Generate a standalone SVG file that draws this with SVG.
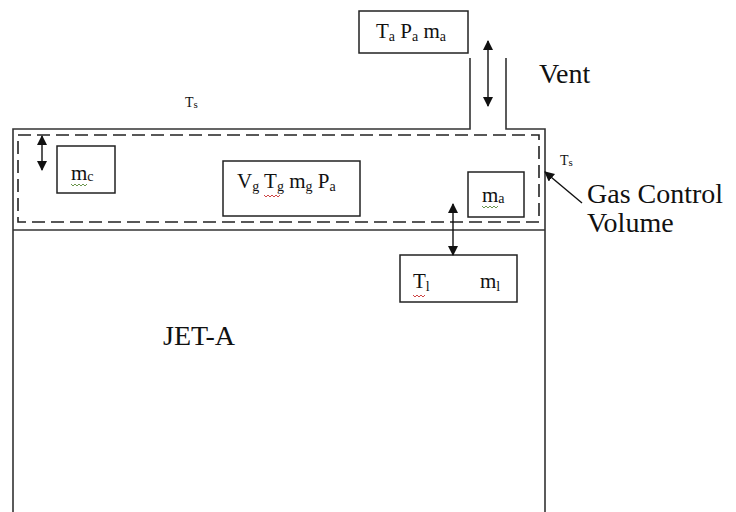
<svg xmlns="http://www.w3.org/2000/svg" width="736" height="512" viewBox="0 0 736 512">
<defs>
<marker id="ah" viewBox="0 0 10 10" refX="9" refY="5" markerWidth="10" markerHeight="10" markerUnits="userSpaceOnUse" orient="auto-start-reverse">
<path d="M0,0 L10,5 L0,10 Z" fill="#111"/>
</marker>
<style>
.w{stroke:#333;stroke-width:1.6;fill:none}
.box{stroke:#222;stroke-width:1.5;fill:#fff}
.dash{stroke:#222;stroke-width:1.6;fill:none;stroke-dasharray:13 6}
.ar{stroke:#111;stroke-width:1.4;fill:none}
text{font-family:"Liberation Serif","Times New Roman",serif;fill:#111}
.t{font-size:21px}
.sub{font-size:14px}
.big{font-size:28px}
.sm{font-size:14px}
.sq{fill:none;stroke-width:0.9}
</style>
</defs>
<rect width="736" height="512" fill="#fff"/>
<g id="tank">
<path class="w" d="M13,512 V129 H470 V58"/>
<path class="w" d="M506,58 V129 H545 V512"/>
<line class="w" x1="13" y1="230" x2="545" y2="230"/>
</g>
<g id="gas-control-volume">
<rect class="dash" x="18" y="135" width="521" height="87"/>
</g>
<g id="ambient" font-family="Liberation Serif, serif">
<rect class="box" x="359" y="11" width="109" height="42"/>
<text class="t" x="376" y="38">T<tspan class="sub" dy="3">a</tspan><tspan dy="-3"> P</tspan><tspan class="sub" dy="3">a</tspan><tspan dy="-3"> m</tspan><tspan class="sub" dy="3">a</tspan></text>
</g>
<g id="mc" font-family="Liberation Serif, serif">
<rect class="box" x="57" y="146" width="58" height="47"/>
<text class="t" x="71" y="180">m<tspan class="sub" dy="1">c</tspan></text>
<path class="sq" stroke="#5a8a3a" d="M71,184 l2,2 l2,-2 l2,2 l2,-2 l2,2 l2,-2 l2,2 l2,-2"/>
</g>
<g id="gas" font-family="Liberation Serif, serif">
<rect class="box" x="223" y="161" width="137" height="55"/>
<text class="t" x="237" y="188">V<tspan class="sub" dy="3">g</tspan><tspan dy="-3"> T</tspan><tspan class="sub" dy="3">g</tspan><tspan dy="-3"> m</tspan><tspan class="sub" dy="3">g</tspan><tspan dy="-3"> P</tspan><tspan class="sub" dy="3">a</tspan></text>
<path class="sq" stroke="#c83030" d="M264,195 l2,2 l2,-2 l2,2 l2,-2 l2,2 l2,-2 l2,2 l2,-2"/>
</g>
<g id="ma" font-family="Liberation Serif, serif">
<rect class="box" x="468" y="172" width="56" height="45"/>
<text class="t" x="482" y="202">m<tspan class="sub" dy="1">a</tspan></text>
<path class="sq" stroke="#5a8a3a" d="M482,206 l2,2 l2,-2 l2,2 l2,-2 l2,2 l2,-2 l2,2 l2,-2"/>
</g>
<g id="liquid" font-family="Liberation Serif, serif">
<rect class="box" x="400" y="255" width="117" height="47"/>
<text class="t" x="413" y="288">T<tspan class="sub" dy="3">l</tspan></text>
<text class="t" x="480" y="288">m<tspan class="sub" dy="3">l</tspan></text>
<path class="sq" stroke="#c83030" d="M413,295 l2,2 l2,-2 l2,2 l2,-2 l2,2 l2,-2"/>
</g>
<g id="connectors">
<line class="ar" x1="488" y1="41" x2="488" y2="106" marker-start="url(#ah)" marker-end="url(#ah)"/>
<line class="ar" x1="42" y1="136" x2="42" y2="170" marker-start="url(#ah)" marker-end="url(#ah)"/>
<line class="ar" x1="453" y1="204" x2="453" y2="255" marker-start="url(#ah)" marker-end="url(#ah)"/>
<line class="ar" x1="582" y1="203" x2="545" y2="172" marker-end="url(#ah)"/>
</g>
<g id="labels" font-family="Liberation Serif, serif">
<text class="big" x="539" y="83">Vent</text>
<text class="sm" x="185" y="107">T<tspan font-size="11" dy="1">s</tspan></text>
<text class="sm" x="560" y="165">T<tspan font-size="11" dy="1">s</tspan></text>
<text class="big" x="587" y="203">Gas Control</text>
<text class="big" x="587" y="232">Volume</text>
<text class="big" x="163" y="345">JET-A</text>
</g>
</svg>
